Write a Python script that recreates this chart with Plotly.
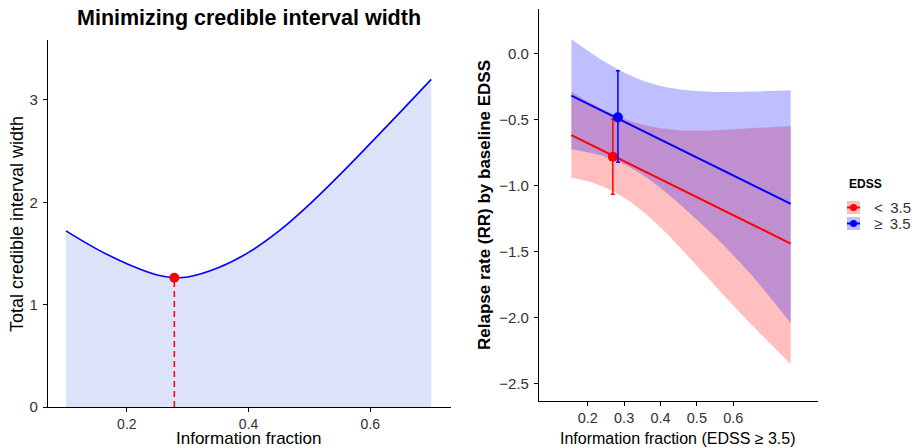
import plotly.graph_objects as go

# ---------------- Left panel data ----------------
frac = [0.10, 0.15, 0.20, 0.25, 0.278, 0.30, 0.35, 0.40, 0.45, 0.50, 0.55, 0.60, 0.65, 0.70]
ci_width = [1.72, 1.545, 1.40, 1.29, 1.263, 1.27, 1.36, 1.51, 1.72, 1.98, 2.27, 2.575, 2.885, 3.20]
opt_frac = 0.278
opt_width = 1.263
left_xticks = [0.2, 0.4, 0.6]
left_yticks = [0, 1, 2, 3]

# ---------------- Right panel data ----------------
band_x = [0.155, 0.20, 0.25, 0.30, 0.35, 0.40, 0.45, 0.50, 0.55, 0.60, 0.65, 0.70, 0.758]
low_upper = [-0.29, -0.365, -0.435, -0.495, -0.54, -0.568, -0.582, -0.586, -0.583, -0.576, -0.568, -0.56, -0.55]
low_lower = [-0.945, -0.97, -1.02, -1.095, -1.195, -1.32, -1.46, -1.61, -1.76, -1.91, -2.055, -2.195, -2.355]
high_upper = [0.106, 0.02, -0.07, -0.145, -0.205, -0.247, -0.272, -0.286, -0.292, -0.292, -0.289, -0.285, -0.28]
high_lower = [-0.727, -0.75, -0.785, -0.84, -0.92, -1.02, -1.135, -1.26, -1.39, -1.53, -1.68, -1.845, -2.045]
line_x = [0.155, 0.758]
low_line = [-0.619, -1.442]
high_line = [-0.321, -1.14]
pt_x = [0.269, 0.283]
pt_y = [-0.783, -0.485]
pt_hi = [-0.498, -0.131]
pt_lo = [-1.068, -0.826]
groups = ["<\u20023.5", "\u2265\u20023.5"]
right_xticks = [0.2, 0.3, 0.4, 0.5, 0.6]
right_yticks = [0.0, -0.5, -1.0, -1.5, -2.0, -2.5]

RED = "#FF0000"
BLUE = "#0000FF"
RED_FILL = "rgba(255,0,0,0.25)"
BLUE_FILL = "rgba(0,0,255,0.25)"
FONT = "Liberation Sans, Arial, sans-serif"
W, H = 912, 448

fig = go.Figure()

# Left panel
fig.add_trace(go.Scatter(x=frac, y=ci_width, mode="lines", line=dict(color=BLUE, width=1.6, shape="spline"),
                         fill="tozeroy", fillcolor="#DCE2F7", xaxis="x", yaxis="y", showlegend=False))
fig.add_trace(go.Scatter(x=[opt_frac, opt_frac], y=[0, opt_width], mode="lines",
                         line=dict(color=RED, width=1.5, dash="6px,4px"), xaxis="x", yaxis="y", showlegend=False))
fig.add_trace(go.Scatter(x=[opt_frac], y=[opt_width], mode="markers", marker=dict(color=RED, size=10),
                         xaxis="x", yaxis="y", showlegend=False))

# Right panel bands (red first, then blue)
for lower, upper, fc in [(low_lower, low_upper, RED_FILL), (high_lower, high_upper, BLUE_FILL)]:
    fig.add_trace(go.Scatter(x=band_x, y=lower, mode="lines", line=dict(width=0, shape="spline"),
                             xaxis="x2", yaxis="y2", showlegend=False, hoverinfo="skip"))
    fig.add_trace(go.Scatter(x=band_x, y=upper, mode="lines", line=dict(width=0, shape="spline"),
                             fill="tonexty", fillcolor=fc, xaxis="x2", yaxis="y2", showlegend=False, hoverinfo="skip"))

for yl, col in [(low_line, RED), (high_line, BLUE)]:
    fig.add_trace(go.Scatter(x=line_x, y=yl, mode="lines", line=dict(color=col, width=2),
                             xaxis="x2", yaxis="y2", showlegend=False))

for i, col in enumerate([RED, BLUE]):
    fig.add_trace(go.Scatter(x=[pt_x[i]], y=[pt_y[i]], mode="markers", marker=dict(color=col, size=10),
                             error_y=dict(type="data", symmetric=False, array=[pt_hi[i] - pt_y[i]],
                                          arrayminus=[pt_y[i] - pt_lo[i]], color=col, thickness=1.5, width=2),
                             xaxis="x2", yaxis="y2", showlegend=False))


def axis_common(size):
    return dict(showgrid=False, zeroline=False, showline=True, linecolor="black", linewidth=1.1,
                ticks="outside", ticklen=4, tickcolor="black", tickwidth=1.1, automargin=False,
                tickfont=dict(family=FONT, size=size, color="#333333"))


fig.update_layout(
    width=W, height=H, margin=dict(l=0, r=0, t=0, b=0, pad=0, autoexpand=False),
    paper_bgcolor="white", plot_bgcolor="white",
    font=dict(family=FONT),
    xaxis=dict(domain=[48 / W, 451 / W], range=[0.0705, 0.7325], tickvals=left_xticks,
               anchor="y", **axis_common(14)),
    yaxis=dict(domain=[(H - 407) / H, (H - 40) / H], range=[0, 3.585], tickvals=left_yticks,
               anchor="x", ticklabelstandoff=2, **axis_common(15)),
    xaxis2=dict(domain=[539 / W, 818 / W], range=[0.066, 0.833], tickvals=right_xticks,
                anchor="y2", **axis_common(14.5)),
    yaxis2=dict(domain=[(H - 401) / H, (H - 9) / H], range=[-2.634, 0.336], tickvals=right_yticks,
                tickformat=".1f", anchor="x2", ticklabelstandoff=2, **axis_common(15)),
)

ann = []
ann.append(dict(text="<b>Minimizing credible interval width</b>", x=249 / W, y=1 - 18 / H,
                font=dict(size=21.5, color="black")))
ann.append(dict(text="Total credible interval width", x=17 / W, y=1 - 224 / H, textangle=-90,
                font=dict(size=18, color="black")))
ann.append(dict(text="Information fraction", x=249 / W, y=1 - 438.5 / H, borderpad=0,
                font=dict(size=17, color="black")))
ann.append(dict(text="<b>Relapse rate (RR) by baseline EDSS</b>", x=484 / W, y=1 - 205 / H, textangle=-90,
                font=dict(size=17, color="black")))
ann.append(dict(text="Information fraction (EDSS ≥ 3.5)", x=678 / W, y=1 - 438 / H,
                font=dict(size=16, color="black")))
ann.append(dict(text="<b>EDSS</b>", x=847 / W, y=1 - 184 / H, xanchor="left", font=dict(size=12, color="black")))

shapes = []
key_cols = [(RED, "rgba(255,191,191,1)"), (BLUE, "rgba(191,191,255,1)")]
for i, (lab, (col, fc)) in enumerate(zip(groups, key_cols)):
    y0 = 201 + 16 * i
    yc = y0 + 6.5
    shapes.append(dict(type="rect", xref="paper", yref="paper", x0=847 / W, x1=860 / W,
                       y0=1 - y0 / H, y1=1 - (y0 + 13) / H, fillcolor=fc, line=dict(width=0)))
    shapes.append(dict(type="line", xref="paper", yref="paper", x0=847 / W, x1=860 / W,
                       y0=1 - yc / H, y1=1 - yc / H, line=dict(color=col, width=2)))
    shapes.append(dict(type="circle", xref="paper", yref="paper", x0=850 / W, x1=857 / W,
                       y0=1 - (yc - 3.5) / H, y1=1 - (yc + 3.5) / H, fillcolor=col, line=dict(width=0)))
    ann.append(dict(text=lab, x=872 / W, y=1 - yc / H, xanchor="left", font=dict(size=15, color="#333333")))

for a in ann:
    a.setdefault("xanchor", "center")
    a.update(xref="paper", yref="paper", yanchor="middle", showarrow=False)
fig.update_layout(annotations=ann, shapes=shapes)

fig.write_html("out.html")
